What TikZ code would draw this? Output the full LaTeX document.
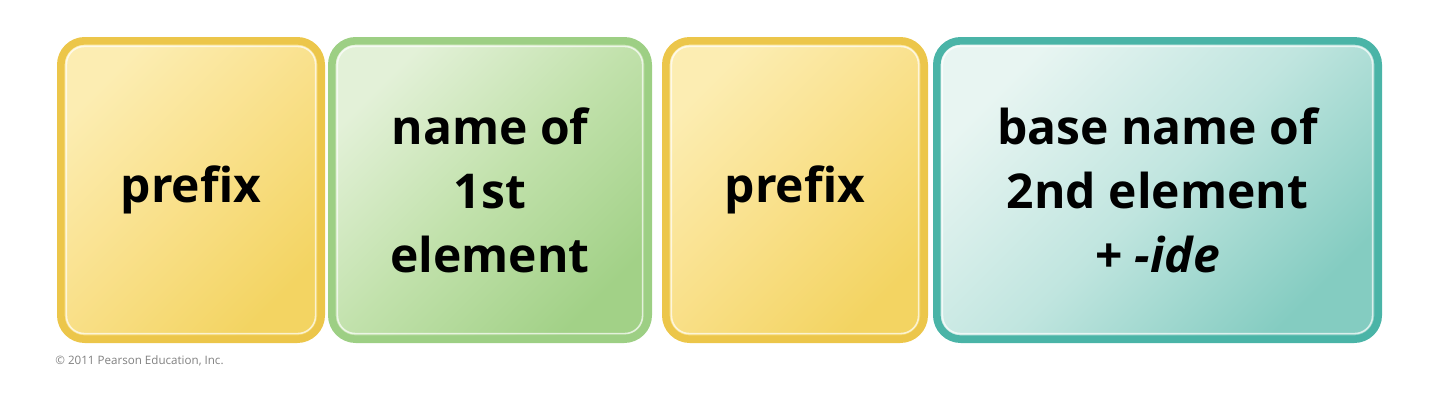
\documentclass[tikz,border=0pt]{standalone}
\usepackage{fontspec}
\setmainfont{Open Sans}
\usepackage{tikz}
\usetikzlibrary{positioning, calc, shadings}
\usepackage{xcolor}
\definecolor{jauneclair}{HTML}{FCEDB2}
\definecolor{jaunemilieu}{HTML}{F9E08A}
\definecolor{jaunefonce}{HTML}{F3D462}
\definecolor{jaunebord}{HTML}{ECC64A}
\definecolor{vertclair}{HTML}{E3F1D8}
\definecolor{vertmilieu}{HTML}{C1E1AB}
\definecolor{vertfonce}{HTML}{A2D187}
\definecolor{vertbord}{HTML}{9DCF84}
\definecolor{bleuclair}{HTML}{E8F5F2}
\definecolor{bleumilieu}{HTML}{C0E5DF}
\definecolor{bleufonce}{HTML}{84CCC1}
\definecolor{bleubord}{HTML}{4AB4A7}
\tikzstyle{boite} = [rectangle, rounded corners = 12pt, line width = 3.8pt, minimum height = 149.2pt, text centered, align = center, inner sep = 0pt, font = \fontsize{24}{32}\selectfont\bfseries,
path picture = {\draw[white, opacity = 0.7, line width = 0.8pt, rounded corners = 9pt] ($(path picture bounding box.south west) + (2.8pt, 2.8pt)$) rectangle ($(path picture bounding box.north east) - (2.8pt, 2.8pt)$);}]
\tikzstyle{jaune} = [boite, draw = jaunebord, top color = jauneclair, bottom color = jaunefonce, middle color = jaunemilieu, shading angle = 45]
\tikzstyle{vert} = [boite, draw = vertbord, top color = vertclair, bottom color = vertfonce, middle color = vertmilieu, shading angle = 45]
\tikzstyle{bleu} = [boite, draw = bleubord, top color = bleuclair, bottom color = bleufonce, middle color = bleumilieu, shading angle = 45]

\begin{document}
\begin{tikzpicture}
\useasboundingbox (0, 0) rectangle (720pt, 207pt);

\node (1) [jaune, minimum width = 130.2pt] at (95.5pt, 112pt) {prefix};
\node (2) [vert, minimum width = 158.2pt, right = 1.5pt of 1] {name of \\ 1st \\ element};
\node (3) [jaune, minimum width = 129.2pt, right = 5pt of 2] {prefix};
\node (4) [bleu, minimum width = 220.7pt, right = 2.5pt of 3] {base name of \\ 2nd element \\ + \textit{-ide}};

\node (5) [below right = 6pt and -1pt of 1.south west, inner sep = 0pt, text = gray, font = \fontsize{5.8}{7}\selectfont] {© 2011 Pearson Education, Inc.};

\end{tikzpicture}
\end{document}
